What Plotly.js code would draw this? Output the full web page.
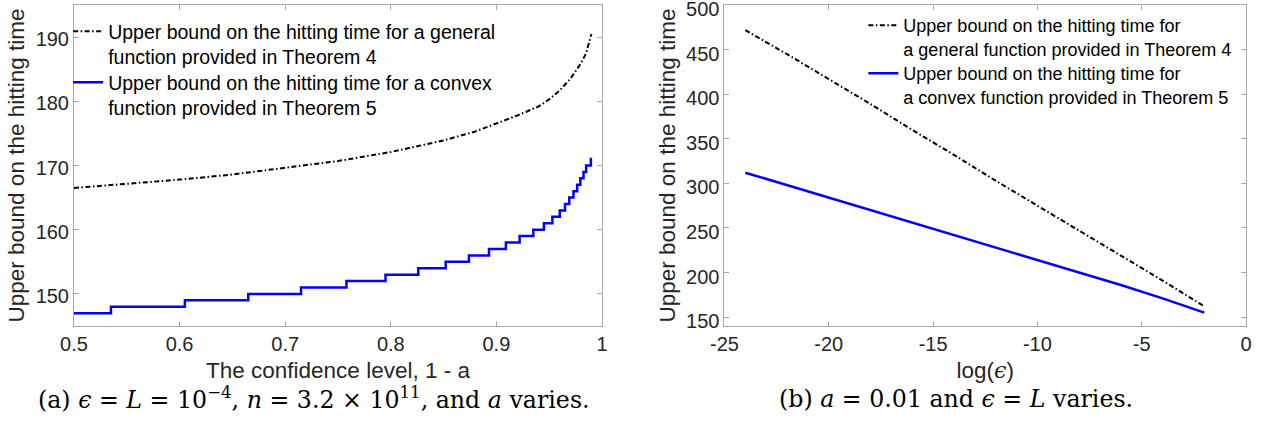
<!DOCTYPE html>
<html>
<head>
<meta charset="utf-8">
<script src="https://cdn.plot.ly/plotly-3.0.1.min.js"></script>
<style>html,body{margin:0;padding:0;background:#fff;}#chart{width:1265px;height:429px;}</style>
</head>
<body>
<div id="chart"></div>
<script>
// ---- Panel (a): confidence level 1 - a ----
const confLevelGeneral = [0.50, 0.55, 0.60, 0.65, 0.70, 0.75, 0.80, 0.85, 0.88, 0.90, 0.92, 0.94, 0.95, 0.96, 0.97, 0.98, 0.985, 0.99];
const boundGeneralA    = [166.5, 167.1, 167.8, 168.6, 169.6, 170.7, 172.1, 173.9, 175.3, 176.5, 177.8, 179.2, 180.3, 181.7, 183.5, 185.9, 187.5, 190.5];

const confLevelConvex = [0.500, 0.535, 0.605, 0.665, 0.715, 0.758, 0.795, 0.826, 0.852, 0.874, 0.893, 0.909, 0.922, 0.935, 0.945, 0.953, 0.960, 0.965, 0.969, 0.973, 0.9765, 0.9795, 0.9825, 0.985, 0.9875, 0.9895, 0.9905];
const boundConvexA    = [147, 148, 149, 150, 151, 152, 153, 154, 155, 156, 157, 158, 159, 160, 161, 162, 163, 164, 165, 166, 167, 168, 169, 170, 170, 171, 171];

// ---- Panel (b): log(epsilon) ----
const logEps        = [-24, -22, -20, -18, -16, -14, -12, -10, -8, -6, -4, -2];
const boundGeneralB = [472, 445, 417, 389, 360, 332, 303, 275, 247, 219, 191, 162];
const boundConvexB  = [312, 298, 284, 270, 256, 242, 228, 214, 200, 186, 171, 155];

// ---- Tick labels ----
const xTicksA = [0.5, 0.6, 0.7, 0.8, 0.9, 1];
const xTickTextA = ["0.5", "0.6", "0.7", "0.8", "0.9", "1"];
const yTicksA = [150, 160, 170, 180, 190];
const xTicksB = [-25, -20, -15, -10, -5, 0];
const xTickTextB = ["-25", "-20", "-15", "-10", "-5", "0"];
const yTicksB = [150, 200, 250, 300, 350, 400, 450, 500];

const nameGeneralA = "Upper bound on the hitting time for a general<br>function provided in Theorem 4";
const nameConvexA  = "Upper bound on the hitting time for a convex<br>function provided in Theorem 5";
const nameGeneralB = "Upper bound on the hitting time for<br>a general function provided in Theorem 4";
const nameConvexB  = "Upper bound on the hitting time for<br>a convex function provided in Theorem 5";

const SANS = "Liberation Sans, Arial, Helvetica, sans-serif";
const SERIF = "DejaVu Serif, Liberation Serif, serif";
const TXT = "#262626";
const AXC = "#a8a8a8";
const dashDot = "5px,2.5px,1.5px,2.5px";

const traces = [
  {x: confLevelGeneral, y: boundGeneralA, xaxis: "x", yaxis: "y", mode: "lines", name: nameGeneralA,
   line: {color: "#000", width: 2, dash: dashDot}, legend: "legend"},
  {x: confLevelConvex, y: boundConvexA, xaxis: "x", yaxis: "y", mode: "lines", name: nameConvexA,
   line: {color: "#0000ff", width: 2.5, shape: "hv"}, legend: "legend2"},
  {x: logEps, y: boundGeneralB, xaxis: "x2", yaxis: "y2", mode: "lines", name: nameGeneralB,
   line: {color: "#000", width: 2, dash: dashDot}, legend: "legend3"},
  {x: logEps, y: boundConvexB, xaxis: "x2", yaxis: "y2", mode: "lines", name: nameConvexB,
   line: {color: "#0000ff", width: 2.5}, legend: "legend4"}
];

function axisBase(extra) {
  return Object.assign({
    showline: true, linecolor: AXC, linewidth: 1, mirror: "ticks",
    ticks: "inside", ticklen: 5, tickcolor: AXC, tickwidth: 1,
    showgrid: false, zeroline: false, ticklabeloverflow: "allow",
    tickfont: {family: SANS, size: 20, color: TXT}
  }, extra);
}

function legendAt(x, y, size) {
  return {x: x, y: y, xanchor: "left", yanchor: "top", bgcolor: "rgba(0,0,0,0)",
    font: {family: SANS, size: size, color: "#000"}, valign: "top", itemwidth: 30, tracegroupgap: 0};
}

const layout = {
  width: 1265, height: 429,
  margin: {l: 74, r: 19, t: 5, b: 103},
  paper_bgcolor: "#fff", plot_bgcolor: "#fff",
  showlegend: true,
  xaxis: axisBase({domain: [0, 0.4505], anchor: "y", range: [0.5, 1],
    tickvals: xTicksA, ticktext: xTickTextA,
    title: {text: "The confidence level, 1 - a", font: {family: SANS, size: 22.5, color: TXT}, standoff: 8}}),
  yaxis: axisBase({domain: [0, 1], anchor: "x", range: [145, 195], tickvals: yTicksA, ticklabelshift: 2,
    title: {text: "Upper bound on the hitting time", font: {family: SANS, size: 22.5, color: TXT}, standoff: 4}}),
  xaxis2: axisBase({domain: [0.555, 1], anchor: "y2", range: [-25, 0],
    tickvals: xTicksB, ticktext: xTickTextB,
    title: {text: "log(<span style='font-family:DejaVu Serif'><i>ϵ</i></span>)", font: {family: SANS, size: 22.5, color: TXT}, standoff: 8}}),
  yaxis2: axisBase({domain: [0, 1], anchor: "x2", range: [140, 500.1], tickvals: yTicksB, ticklabelshift: 4,
    title: {text: "Upper bound on the hitting time", font: {family: SANS, size: 22.5, color: TXT}, standoff: 4}}),
  legend: legendAt(-0.005, 0.978, 19.5),
  legend2: legendAt(-0.005, 0.8194, 19.5),
  legend3: legendAt(0.6735, 0.994, 18),
  legend4: legendAt(0.6735, 0.8442, 18),
  annotations: [
    {xref: "paper", yref: "paper", x: 0.2048, y: -0.226, xanchor: "center", yanchor: "middle", showarrow: false,
     text: "(a) <i>ϵ</i> = <i>L</i> = 10<sup>−4</sup>, <i>n</i> = 3.2 × 10<sup>11</sup>, and <i>a</i> varies.",
     font: {family: SERIF, size: 23.7, color: "#000"}},
    {xref: "paper", yref: "paper", x: 0.7526, y: -0.226, xanchor: "center", yanchor: "middle", showarrow: false,
     text: "(b) <i>a</i> = 0.01 and <i>ϵ</i> = <i>L</i> varies.",
     font: {family: SERIF, size: 23.7, color: "#000"}}
  ]
};

Plotly.newPlot("chart", traces, layout, {displayModeBar: false, staticPlot: true});
</script>
</body>
</html>
